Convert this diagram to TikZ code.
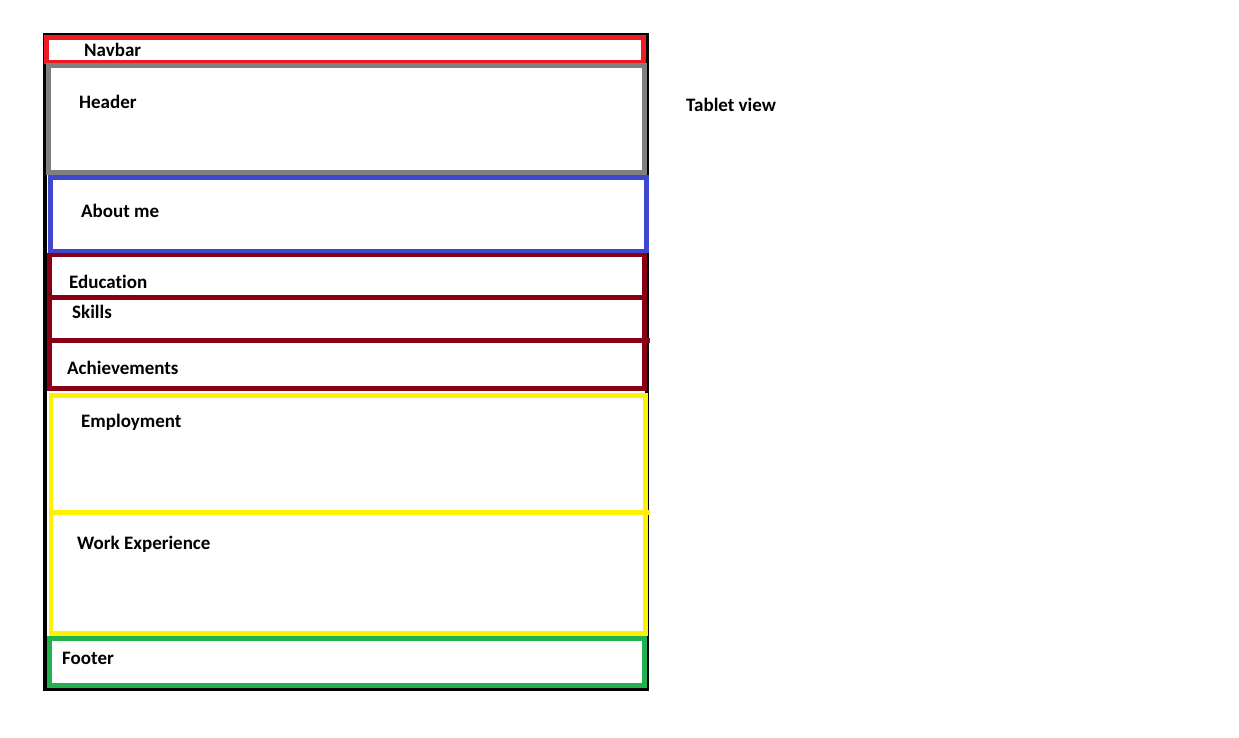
\documentclass[tikz,border=0pt]{standalone}
\usepackage{fontspec}
\setmainfont{Carlito}[Ligatures={NoCommon}]
\usepackage{xcolor}
\usetikzlibrary{positioning}
\definecolor{navred}{RGB}{237, 28, 36}
\definecolor{headgray}{RGB}{127, 127, 127}
\definecolor{aboutblue}{RGB}{63, 72, 204}
\definecolor{maroon}{RGB}{136, 0, 21}
\definecolor{workyellow}{RGB}{255, 242, 0}
\definecolor{footgreen}{RGB}{34, 177, 76}

\begin{document}
\begin{tikzpicture}[
    x=1pt, y=-1pt,
    every node/.style={font=\bfseries\fontsize{19}{21}\selectfont, inner sep=0pt, anchor=west},
    frame/.style={draw=black, line width=4pt},
    part/.style={line width=4.5pt},
    label/.style={text=black}
]
\useasboundingbox (0,0) rectangle (1239,737);

% Boxes
\draw[frame] (45,35) rectangle (647,689);
\draw[part, draw=navred] (46.5,37.5) rectangle (643.5,62);
\draw[part, draw=headgray] (48.5,65.5) rectangle (644.5,172.5);
\draw[part, draw=aboutblue] (50.5,177.5) rectangle (646.5,251);
\draw[part, draw=maroon] (49.5,255) rectangle (644.5,297.5);
\draw[part, draw=maroon] (49.5,297.5) rectangle (644.5,340.5);
\draw[part, draw=maroon] (49.5,340.5) rectangle (644.5,388.5);
\draw[part, draw=maroon] (644.5,340.5) -- (650,340.5);
\draw[part, draw=workyellow] (51,395.5) rectangle (645.5,512.5);
\draw[part, draw=workyellow] (51,512.5) rectangle (645.5,633.5);
\draw[part, draw=workyellow] (645.5,512.5) -- (650,512.5);
\draw[part, draw=footgreen] (49.5,638.5) rectangle (644.5,685.5);

% Labels
\node[label] (navbar) at (84,50) {Navbar};
\node[label] (header) at (79,102) {Header};
\node[label] (about) at (81,211) {About me};
\node[label] (edu) at (69,282) {Education};
\node[label] (skills) at (72,312) {Skills};
\node[label] (achieve) at (67,368) {Achievements};
\node[label] (employ) at (81,422) {Employment};
\node[label] (workexp) at (77,544) {Work Experience};
\node[label] (footer) at (62,658) {Footer};
\node[label] (tablet) at (686,105) {Tablet view};

\end{tikzpicture}
\end{document}
